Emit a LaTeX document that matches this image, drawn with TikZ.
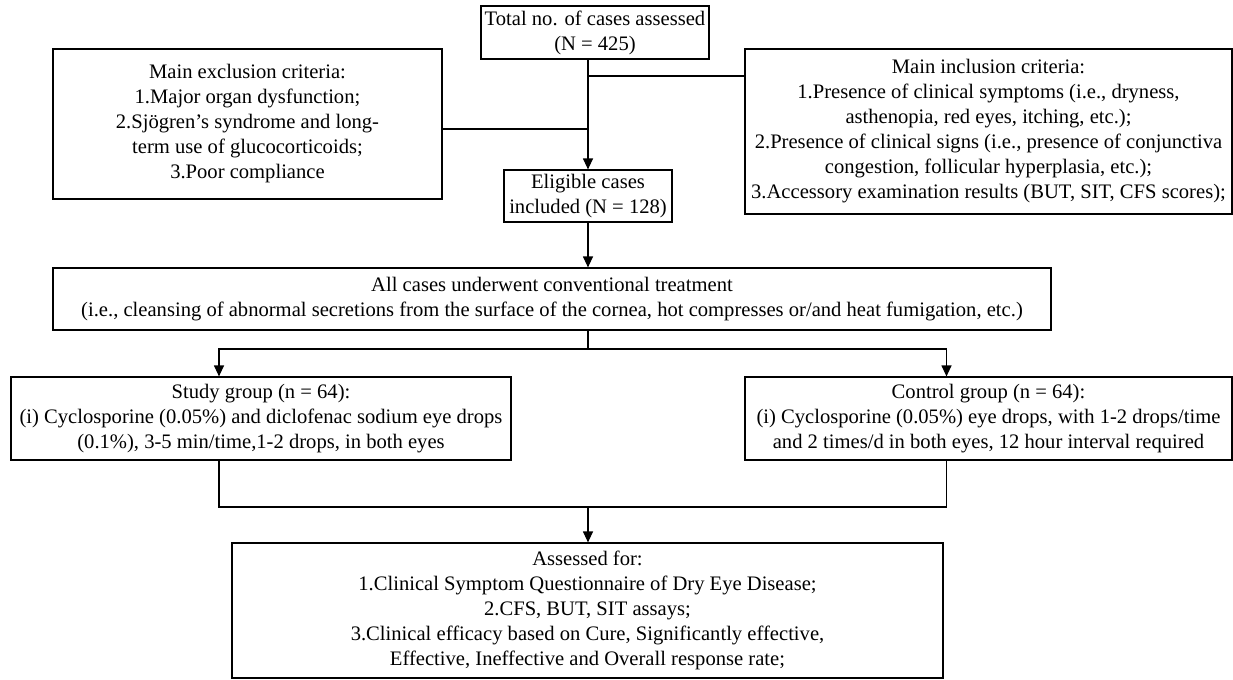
\documentclass[tikz,border=0pt]{standalone}
\usepackage{fontspec}
\setmainfont{Liberation Serif}
\usetikzlibrary{arrows.meta, calc}

\begin{document}
\begin{tikzpicture}[x=0.5pt, y=-0.5pt,
    box/.style={draw, line width=0.6pt, align=center, inner sep=0pt,
        font=\fontsize{10.3}{12.5}\selectfont},
    link/.style={line width=0.6pt},
    arr/.style={link, -{Triangle[length=5.5pt, width=5pt]}}]
                \useasboundingbox (0,0) rectangle (1233,680);
                \node[box, minimum width=114pt, minimum height=26.5pt] (total) at (595,32.5)
                    {Total no. of cases assessed\\(N = 425)};
                \node[box, minimum width=194.5pt, minimum height=75pt] (excl) at (247.5,124)
                    {Main exclusion criteria:\\1.Major organ dysfunction;\\2.Sjögren’s syndrome and long-\\term use of glucocorticoids;\\3.Poor compliance};
                \node[box, minimum width=243.5pt, minimum height=82.5pt] (incl) at (988.5,131.5)
                    {Main inclusion criteria:\\1.Presence of clinical symptoms (i.e., dryness,\\asthenopia, red eyes, itching, etc.);\\2.Presence of clinical signs (i.e., presence of conjunctiva\\congestion, follicular hyperplasia, etc.);\\3.Accessory examination results (BUT, SIT, CFS scores);};
                \node[box, minimum width=84pt, minimum height=26pt] (elig) at (588,196)
                    {Eligible cases\\included (N = 128)};
                \node[box, minimum width=499pt, minimum height=31pt] (conv) at (552,299)
                    {All cases underwent conventional treatment\\(i.e., cleansing of abnormal secretions from the surface of the cornea, hot compresses or/and heat fumigation, etc.)};
                \node[box, minimum width=250pt, minimum height=41.5pt] (study) at (261,418.5)
                    {Study group (n = 64):\\(i) Cyclosporine (0.05\%) and diclofenac sodium eye drops\\(0.1\%), 3-5 min/time,1-2 drops, in both eyes};
                \node[box, minimum width=243.5pt, minimum height=41.5pt] (ctrl) at (988.5,418.5)
                    {Control group (n = 64):\\(i) Cyclosporine (0.05\%) eye drops, with 1-2 drops/time\\and 2 times/d in both eyes, 12 hour interval required};
                \node[box, minimum width=355.5pt, minimum height=67.5pt] (assess) at (587.5,610.5)
                    {Assessed for:\\1.Clinical Symptom Questionnaire of Dry Eye Disease;\\2.CFS, BUT, SIT assays;\\3.Clinical efficacy based on Cure, Significantly effective,\\Effective, Ineffective and Overall response rate;};
                \coordinate (jl) at (588,129);
                \coordinate (jr) at (588,76);
                \coordinate (split) at (588,349);
                \coordinate (merge) at (588,507);
                \draw[arr] (elig.north |- total.south) -- (elig.north);
                \draw[link] (jl -| excl.east) -- (jl);
                \draw[link] (jr) -- (jr -| incl.west);
                \draw[arr] (elig.south) -- (elig.south |- conv.north);
                \draw[link] (split |- conv.south) -- (split);
                \draw[arr] (split) -| ([xshift=-21pt]study.north);
                \draw[arr] (split) -| ([xshift=-21pt]ctrl.north);
                \draw[link] ([xshift=-21pt]study.south) |- (merge) -| ([xshift=-21pt]ctrl.south);
                \draw[arr] (merge) -- (merge |- assess.north);
            \end{tikzpicture}
\end{document}
